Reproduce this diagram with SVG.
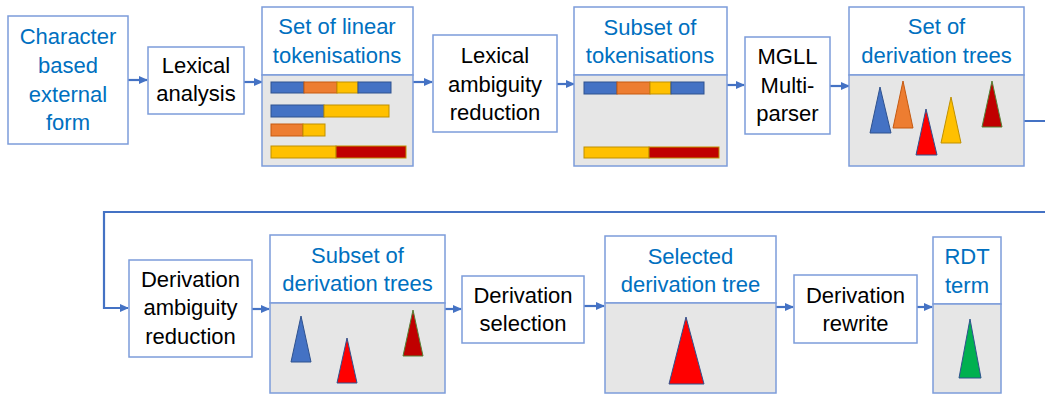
<svg xmlns="http://www.w3.org/2000/svg" width="1045" height="394" viewBox="0 0 1045 394">
<style>
.box{fill:#fff;stroke:#7C9CDA;stroke-width:1.5}
.body{fill:#E6E6E6;stroke:#7C9CDA;stroke-width:1.5}
.t{font-family:"Liberation Sans",Arial,sans-serif;font-size:22px;fill:#000;text-anchor:middle}
.h{font-family:"Liberation Sans",Arial,sans-serif;font-size:22px;fill:#0070C0;text-anchor:middle}
.c{fill:none;stroke:#4472C4;stroke-width:2.2}
.bar{stroke-width:1}
</style>
<defs>
<marker id="ah" markerWidth="9" markerHeight="9" refX="8" refY="4.5" orient="auto" markerUnits="userSpaceOnUse">
<path d="M0,0.5 L9,4.5 L0,8.5 Z" fill="#4472C4"/>
</marker>
</defs>
<g id="connectors">
<path class="c" d="M128,80 H147" marker-end="url(#ah)"/>
<path class="c" d="M244,82 H262" marker-end="url(#ah)"/>
<path class="c" d="M413,82 H432" marker-end="url(#ah)"/>
<path class="c" d="M557,84 H574" marker-end="url(#ah)"/>
<path class="c" d="M727,85 H744" marker-end="url(#ah)"/>
<path class="c" d="M830,86 H849" marker-end="url(#ah)"/>
<path class="c" d="M1024,121 H1050 V212 H104 V308 H128" marker-end="url(#ah)"/>
<path class="c" d="M252,309 H269" marker-end="url(#ah)"/>
<path class="c" d="M445,309 H461" marker-end="url(#ah)"/>
<path class="c" d="M584,306 H604" marker-end="url(#ah)"/>
<path class="c" d="M776,307 H793" marker-end="url(#ah)"/>
<path class="c" d="M917,307 H932" marker-end="url(#ah)"/>
</g>
<g id="character-form">
<rect class="box" x="8" y="16" width="120" height="128"/>
<text class="h" x="68" y="44">Character</text>
<text class="h" x="68" y="73">based</text>
<text class="h" x="68" y="102">external</text>
<text class="h" x="68" y="130">form</text>
</g>
<g id="lexical-analysis">
<rect class="box" x="148" y="47" width="96" height="67"/>
<text class="t" x="196" y="73">Lexical</text>
<text class="t" x="196" y="101">analysis</text>
</g>
<g id="linear-tokenisations">
<rect class="box" x="262" y="7" width="151" height="68"/>
<rect class="body" x="262" y="75" width="151" height="91"/>
<text class="h" x="337" y="34">Set of linear</text>
<text class="h" x="337" y="63">tokenisations</text>
<rect class="bar" x="271" y="82" width="33" height="11" fill="#4472C4" stroke="#2F528F"/>
<rect class="bar" x="304" y="82" width="33" height="11" fill="#ED7D31" stroke="#C55A11"/>
<rect class="bar" x="337" y="82" width="21" height="11" fill="#FFC000" stroke="#BF9000"/>
<rect class="bar" x="358" y="82" width="33" height="11" fill="#4472C4" stroke="#2F528F"/>
<rect class="bar" x="271" y="105" width="53" height="12" fill="#4472C4" stroke="#2F528F"/>
<rect class="bar" x="324" y="105" width="65" height="12" fill="#FFC000" stroke="#BF9000"/>
<rect class="bar" x="271" y="124" width="32" height="12" fill="#ED7D31" stroke="#C55A11"/>
<rect class="bar" x="303" y="124" width="22" height="12" fill="#FFC000" stroke="#BF9000"/>
<rect class="bar" x="271" y="146" width="65" height="12" fill="#FFC000" stroke="#BF9000"/>
<rect class="bar" x="336" y="146" width="70" height="12" fill="#C00000" stroke="#BF9000"/>
</g>
<g id="lexical-ambiguity-reduction">
<rect class="box" x="433" y="35" width="124" height="97"/>
<text class="t" x="495" y="63">Lexical</text>
<text class="t" x="495" y="92">ambiguity</text>
<text class="t" x="495" y="120">reduction</text>
</g>
<g id="subset-tokenisations">
<rect class="box" x="574" y="7" width="153" height="68"/>
<rect class="body" x="574" y="75" width="153" height="91"/>
<text class="h" x="650" y="35">Subset of</text>
<text class="h" x="650" y="63">tokenisations</text>
<rect class="bar" x="584" y="82" width="33" height="12" fill="#4472C4" stroke="#2F528F"/>
<rect class="bar" x="617" y="82" width="33" height="12" fill="#ED7D31" stroke="#C55A11"/>
<rect class="bar" x="650" y="82" width="21" height="12" fill="#FFC000" stroke="#BF9000"/>
<rect class="bar" x="671" y="82" width="33" height="12" fill="#4472C4" stroke="#2F528F"/>
<rect class="bar" x="584" y="147" width="65" height="11" fill="#FFC000" stroke="#BF9000"/>
<rect class="bar" x="649" y="147" width="70" height="11" fill="#C00000" stroke="#BF9000"/>
</g>
<g id="mgll-multiparser">
<rect class="box" x="745" y="37" width="85" height="97"/>
<text class="t" x="787.5" y="64">MGLL</text>
<text class="t" x="787.5" y="93">Multi-</text>
<text class="t" x="787.5" y="121">parser</text>
</g>
<g id="set-derivation-trees">
<rect class="box" x="849" y="7" width="175" height="68"/>
<rect class="body" x="849" y="75" width="175" height="91"/>
<text class="h" x="936.5" y="34">Set of</text>
<text class="h" x="936.5" y="63">derivation trees</text>
<polygon points="880,87 870,133 891,133" fill="#4472C4" stroke="#2F528F"/>
<polygon points="903,81 893,128 913,128" fill="#ED7D31" stroke="#C55A11"/>
<polygon points="926,109 916,155 937,155" fill="#FF0000" stroke="#2F528F"/>
<polygon points="951,97 941,143 961,143" fill="#FFC000" stroke="#BF9000"/>
<polygon points="992,81 982,127 1002,127" fill="#C00000" stroke="#548235"/>
</g>
<g id="derivation-ambiguity-reduction">
<rect class="box" x="129" y="260" width="123" height="97"/>
<text class="t" x="190.5" y="287">Derivation</text>
<text class="t" x="190.5" y="315">ambiguity</text>
<text class="t" x="190.5" y="344">reduction</text>
</g>
<g id="subset-derivation-trees">
<rect class="box" x="270" y="235" width="175" height="68"/>
<rect class="body" x="270" y="303" width="175" height="90"/>
<text class="h" x="357.5" y="263">Subset of</text>
<text class="h" x="357.5" y="291">derivation trees</text>
<polygon points="301,316 291,362 311,362" fill="#4472C4" stroke="#2F528F"/>
<polygon points="347,338 337,383 357,383" fill="#FF0000" stroke="#2F528F"/>
<polygon points="413,310 403,356 423,356" fill="#C00000" stroke="#548235"/>
</g>
<g id="derivation-selection">
<rect class="box" x="462" y="276" width="122" height="67"/>
<text class="t" x="523" y="303">Derivation</text>
<text class="t" x="523" y="331">selection</text>
</g>
<g id="selected-derivation-tree">
<rect class="box" x="605" y="236" width="171" height="67"/>
<rect class="body" x="605" y="303" width="171" height="90"/>
<text class="h" x="690.5" y="264">Selected</text>
<text class="h" x="690.5" y="292">derivation tree</text>
<polygon points="686,317 669,384 704,384" fill="#FF0000" stroke="#2F528F"/>
</g>
<g id="derivation-rewrite">
<rect class="box" x="794" y="275" width="123" height="68"/>
<text class="t" x="855.5" y="303">Derivation</text>
<text class="t" x="855.5" y="331">rewrite</text>
</g>
<g id="rdt-term">
<rect class="box" x="933" y="237" width="68" height="67"/>
<rect class="body" x="933" y="304" width="68" height="89"/>
<text class="h" x="967" y="264">RDT</text>
<text class="h" x="967" y="293">term</text>
<polygon points="970,319 959,378 981,378" fill="#00B050" stroke="#2F528F"/>
</g>
</svg>
